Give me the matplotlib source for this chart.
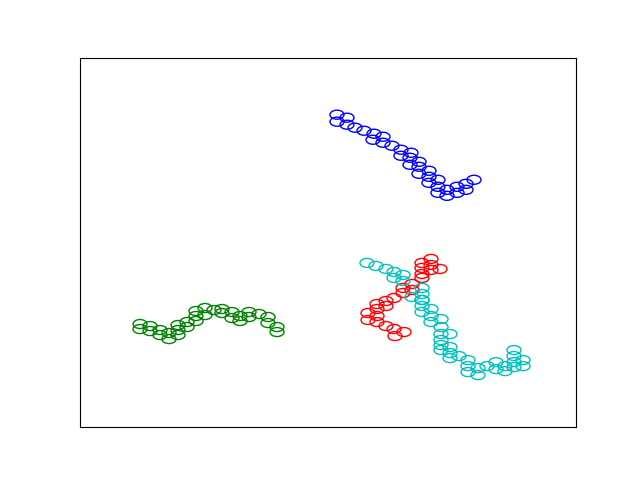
import matplotlib
matplotlib.use("Agg")
import matplotlib.pyplot as plt
from matplotlib.patches import Ellipse

blue_x = [337, 347, 337, 347, 355, 364, 374, 383, 373, 383, 392, 401, 411, 401, 410, 419, 410, 419, 429, 419, 429, 438, 429, 438, 447, 457, 466, 474, 457, 447, 438, 466]
blue_y = [115, 118, 122, 125, 128, 131, 134, 137, 140, 143, 146, 150, 153, 156, 158, 162, 165, 167, 171, 174, 177, 180, 183, 187, 190, 187, 184, 180, 193, 196, 193, 190]

red_x = [431, 422, 431, 440, 422, 431, 422, 422, 412, 403, 412, 403, 394, 386, 377, 386, 377, 368, 377, 368, 377, 386, 394, 404, 395]
red_y = [259, 263, 265, 269, 268, 270, 274, 278, 284, 288, 290, 293, 298, 301, 304, 306, 309, 313, 316, 320, 322, 326, 329, 332, 336]

cyan_x = [367, 376, 386, 394, 403, 394, 403, 422, 422, 412, 422, 422, 422, 431, 422, 431, 431, 441, 441, 450, 441, 441, 441, 441, 450, 450, 450, 459, 468, 468, 468, 478, 478, 487, 496, 496, 505, 505, 514, 514, 514, 514, 523, 523]
cyan_y = [263, 266, 269, 272, 275, 278, 281, 288, 294, 297, 300, 306, 300, 309, 312, 316, 322, 319, 327, 334, 334, 340, 345, 350, 347, 353, 358, 356, 360, 366, 372, 368, 375, 366, 362, 369, 366, 371, 350, 356, 362, 367, 360, 366]

green_x = [140, 140, 150, 150, 160, 160, 169, 169, 178, 178, 178, 187, 187, 196, 196, 196, 205, 205, 214, 222, 222, 232, 232, 240, 240, 249, 249, 259, 268, 268, 277, 277]
green_y = [324, 329, 326, 331, 330, 335, 333, 339, 335, 330, 325, 322, 327, 311, 316, 321, 308, 315, 310, 309, 313, 312, 318, 316, 321, 312, 317, 314, 317, 323, 327, 332]

series = [(blue_x, blue_y, 'b'), (red_x, red_y, 'r'), (cyan_x, cyan_y, 'c'), (green_x, green_y, 'g')]

fig = plt.figure(figsize=(6.4, 4.8), dpi=100)
ax = fig.add_axes([0.125, 0.11, 0.775, 0.77])
for xs, ys, col in series:
    for x, y in zip(xs, ys):
        ax.add_patch(Ellipse((x, y), 14, 9, facecolor='none', edgecolor=col, linewidth=1.0))
ax.set_xlim(80, 576)
ax.set_ylim(427, 58)
ax.set_xticks([])
ax.set_yticks([])
fig.savefig("out.png", dpi=100)
